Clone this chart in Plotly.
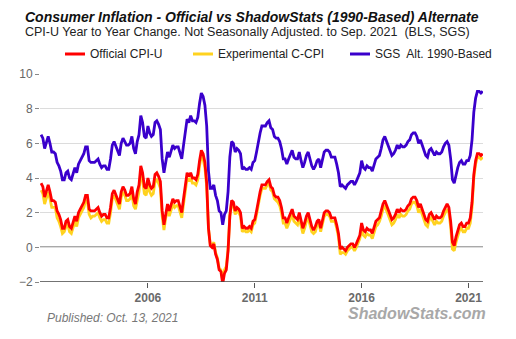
import plotly.graph_objects as go

start_year = 2001

cpi_u = [
    3.7, 3.5, 2.9, 3.3, 3.6, 3.2, 2.7, 2.7, 2.6, 2.1, 1.9, 1.6,
    1.1, 1.1, 1.5, 1.6, 1.2, 1.1, 1.5, 1.8, 1.5, 2.0, 2.2, 2.4,
    2.6, 3.0, 3.0, 2.2, 2.1, 2.1, 2.1, 2.2, 2.3, 2.0, 1.8, 1.9,
    1.9, 1.7, 1.7, 2.3, 3.1, 3.3, 3.0, 2.7, 2.5, 3.2, 3.5, 3.3,
    3.0, 3.0, 3.1, 3.5, 2.8, 2.5, 3.2, 3.6, 4.7, 4.3, 3.5, 3.4,
    4.0, 3.6, 3.4, 3.5, 4.2, 4.3, 4.1, 3.8, 2.1, 1.3, 2.0, 2.5,
    2.1, 2.4, 2.8, 2.6, 2.7, 2.7, 2.4, 2.0, 2.8, 3.5, 4.3, 4.1,
    4.3, 4.0, 4.0, 3.9, 4.2, 5.0, 5.6, 5.4, 4.9, 3.7, 1.1, 0.1,
    0.0, 0.2, -0.4, -0.7, -1.3, -1.4, -2.1, -1.5, -1.3, -0.2, 1.8, 2.7,
    2.6, 2.1, 2.3, 2.2, 2.0, 1.1, 1.2, 1.1, 1.1, 1.2, 1.1, 1.5,
    1.6, 2.1, 2.7, 3.2, 3.6, 3.6, 3.6, 3.8, 3.9, 3.5, 3.4, 3.0,
    2.9, 2.9, 2.7, 2.3, 1.7, 1.7, 1.4, 1.7, 2.0, 2.2, 1.8, 1.7,
    1.6, 2.0, 1.5, 1.1, 1.4, 1.8, 2.0, 1.5, 1.2, 1.0, 1.2, 1.5,
    1.6, 1.1, 1.5, 2.0, 2.1, 2.1, 2.0, 1.7, 1.7, 1.7, 1.3, 0.8,
    -0.1, 0.0, -0.1, -0.2, 0.0, 0.1, 0.2, 0.2, 0.0, 0.2, 0.5, 0.7,
    1.4, 1.0, 0.9, 1.1, 1.0, 1.0, 0.8, 1.1, 1.5, 1.6, 1.7, 2.1,
    2.5, 2.7, 2.4, 2.2, 1.9, 1.6, 1.7, 1.9, 2.2, 2.0, 2.2, 2.1,
    2.1, 2.2, 2.4, 2.5, 2.8, 2.9, 2.9, 2.7, 2.3, 2.5, 2.2, 1.9,
    1.6, 1.5, 1.9, 2.0, 1.8, 1.6, 1.8, 1.7, 1.7, 1.8, 2.1, 2.3,
    2.5, 2.3, 1.5, 0.3, 0.1, 0.6, 1.0, 1.3, 1.4, 1.2, 1.2, 1.4,
    1.4, 1.7, 2.6, 4.2, 5.0, 5.4, 5.4, 5.3, 5.4,
]

c_cpi = [
    3.3, 3.1, 2.5, 2.9, 3.2, 2.8, 2.3, 2.3, 2.3, 1.7, 1.5, 1.2,
    0.8, 0.9, 1.2, 1.3, 0.9, 0.8, 1.2, 1.5, 1.2, 1.7, 1.9, 2.1,
    2.3, 2.7, 2.7, 1.9, 1.7, 1.8, 1.8, 1.9, 2.0, 1.7, 1.5, 1.6,
    1.6, 1.4, 1.4, 2.0, 2.8, 3.0, 2.7, 2.4, 2.2, 2.9, 3.2, 3.0,
    2.7, 2.7, 2.8, 3.1, 2.4, 2.2, 2.8, 3.2, 4.3, 3.9, 3.1, 3.0,
    3.6, 3.2, 3.0, 3.1, 3.8, 3.9, 3.7, 3.4, 1.8, 1.0, 1.7, 2.2,
    1.8, 2.1, 2.5, 2.3, 2.4, 2.4, 2.1, 1.7, 2.5, 3.2, 4.0, 3.8,
    4.0, 3.7, 3.7, 3.6, 3.9, 4.7, 5.3, 5.1, 4.6, 3.5, 1.1, 0.2,
    0.1, 0.3, -0.3, -0.6, -1.2, -1.3, -1.9, -1.3, -1.1, -0.1, 1.8, 2.6,
    2.4, 1.9, 2.1, 2.0, 1.8, 0.9, 1.0, 0.9, 0.9, 1.0, 0.9, 1.3,
    1.4, 1.9, 2.5, 3.0, 3.4, 3.4, 3.4, 3.6, 3.7, 3.3, 3.2, 2.8,
    2.7, 2.6, 2.4, 2.0, 1.4, 1.4, 1.1, 1.4, 1.7, 1.9, 1.5, 1.4,
    1.3, 1.7, 1.2, 0.8, 1.1, 1.5, 1.7, 1.2, 0.9, 0.8, 0.9, 1.3,
    1.4, 0.9, 1.3, 1.8, 1.9, 1.9, 1.8, 1.5, 1.5, 1.5, 1.1, 0.6,
    -0.4, -0.3, -0.3, -0.4, -0.2, -0.1, 0.0, 0.0, -0.2, 0.0, 0.3, 0.5,
    1.1, 0.7, 0.6, 0.8, 0.7, 0.7, 0.5, 0.8, 1.2, 1.3, 1.5, 1.8,
    2.2, 2.4, 2.1, 1.9, 1.6, 1.3, 1.4, 1.6, 1.9, 1.7, 1.9, 1.8,
    1.8, 1.9, 2.1, 2.2, 2.5, 2.6, 2.6, 2.4, 2.0, 2.2, 1.9, 1.6,
    1.3, 1.2, 1.6, 1.7, 1.5, 1.3, 1.5, 1.4, 1.4, 1.5, 1.8, 2.0,
    2.2, 2.0, 1.2, -0.1, -0.2, 0.3, 0.7, 1.0, 1.1, 0.9, 0.9, 1.1,
    1.1, 1.4, 2.3, 4.0, 4.8, 5.2, 5.2, 5.1, 5.2,
]

sgs_alt = [
    6.5, 6.3, 5.7, 6.1, 6.4, 6.0, 5.5, 5.5, 5.4, 4.9, 4.7, 4.4,
    3.9, 3.9, 4.3, 4.4, 4.0, 3.9, 4.3, 4.6, 4.3, 4.8, 5.0, 5.2,
    5.4, 5.8, 5.8, 5.0, 4.9, 4.9, 4.9, 5.0, 5.1, 4.8, 4.6, 4.7,
    4.7, 4.5, 4.5, 5.1, 5.9, 6.1, 5.8, 5.5, 5.3, 6.0, 6.3, 6.1,
    5.9, 5.9, 6.0, 6.4, 5.7, 5.4, 6.1, 6.5, 7.6, 7.2, 6.4, 6.3,
    7.0, 6.6, 6.4, 6.5, 7.2, 7.3, 7.1, 6.8, 5.1, 4.3, 5.0, 5.5,
    5.2, 5.5, 5.9, 5.7, 5.8, 5.8, 5.5, 5.1, 5.9, 6.6, 7.4, 7.2,
    7.6, 7.3, 7.3, 7.2, 7.5, 8.3, 8.9, 8.7, 8.2, 7.0, 4.4, 3.4,
    3.4, 3.6, 3.0, 2.7, 2.1, 2.0, 1.3, 1.9, 2.1, 3.2, 5.2, 6.1,
    6.0, 5.5, 5.7, 5.6, 5.4, 4.5, 4.6, 4.5, 4.5, 4.6, 4.5, 4.9,
    5.0, 5.5, 6.1, 6.6, 7.0, 7.0, 7.0, 7.2, 7.3, 6.9, 6.8, 6.4,
    6.3, 6.3, 6.1, 5.7, 5.1, 5.1, 4.8, 5.1, 5.4, 5.6, 5.2, 5.1,
    5.1, 5.5, 5.0, 4.6, 4.9, 5.3, 5.5, 5.0, 4.7, 4.5, 4.7, 5.0,
    5.1, 4.6, 5.0, 5.5, 5.6, 5.6, 5.5, 5.2, 5.2, 5.2, 4.8, 4.3,
    3.5, 3.6, 3.5, 3.4, 3.6, 3.7, 3.8, 3.8, 3.6, 3.8, 4.1, 4.3,
    5.0, 4.6, 4.5, 4.7, 4.6, 4.6, 4.4, 4.7, 5.1, 5.2, 5.3, 5.7,
    6.2, 6.4, 6.1, 5.9, 5.6, 5.3, 5.4, 5.6, 5.9, 5.7, 5.9, 5.8,
    5.8, 5.9, 6.1, 6.2, 6.5, 6.6, 6.6, 6.4, 6.0, 6.2, 5.9, 5.6,
    5.3, 5.2, 5.6, 5.7, 5.5, 5.3, 5.5, 5.4, 5.4, 5.5, 5.8, 6.0,
    6.1, 5.9, 5.1, 3.9, 3.7, 4.2, 4.6, 4.9, 5.0, 4.8, 4.8, 5.0,
    5.0, 5.3, 6.2, 7.8, 8.6, 9.0, 9.0, 8.9, 9.0,
]

x_ticks = [2006, 2011, 2016, 2021]
y_ticks = [-2, 0, 2, 4, 6, 8, 10]

series_names = ["Official CPI-U", "Experimental C-CPI", "SGS  Alt. 1990-Based"]
series_colors = ["#ff0000", "#ffd21f", "#3a00cc"]

months = [start_year + i / 12 for i in range(len(cpi_u))]

fig = go.Figure()
for name, vals, col in [
    (series_names[2], sgs_alt, series_colors[2]),
    (series_names[1], c_cpi, series_colors[1]),
    (series_names[0], cpi_u, series_colors[0]),
]:
    fig.add_trace(go.Scatter(x=months, y=vals, mode="lines", name=name,
                             line=dict(color=col, width=2.8), showlegend=False,
                             hoverinfo="skip"))

# zero line
fig.add_shape(type="line", xref="paper", yref="y", x0=0, x1=1, y0=0, y1=0,
              line=dict(color="#555555", width=1.5), layer="below")

font = "Liberation Sans, Arial, sans-serif"
fig.update_layout(
    width=516, height=339,
    margin=dict(l=40, r=33, t=74, b=57),
    paper_bgcolor="white", plot_bgcolor="white",
    xaxis=dict(range=[2000.95, 2021.68], tickvals=x_ticks,
               ticktext=[f"<b>{t}</b>" for t in x_ticks],
               showgrid=False, zeroline=False, showline=False,
               ticks="outside", ticklen=5, tickcolor="#555555",
               tickfont=dict(family=font, size=12, color="#6a6a6a")),
    yaxis=dict(range=[-2, 10], tickvals=y_ticks,
               showgrid=True, gridcolor="#dcdcdc", gridwidth=1,
               zeroline=False, showline=False,
               ticks="outside", ticklen=4, tickcolor="#888888",
               tickfont=dict(family=font, size=12, color="#666666")),
)
# bottom axis line at -2
fig.add_shape(type="line", xref="paper", yref="y", x0=0, x1=1, y0=-2, y1=-2,
              line=dict(color="#444444", width=1.5))

plot_l, plot_r, plot_t, plot_b = 40, 483, 74, 282
def px_to_paper_x(px):
    return (px - plot_l) / (plot_r - plot_l)
def px_to_paper_y(py):
    return (plot_b - py) / (plot_b - plot_t)

anns = [
    dict(text="<b><i>Consumer Inflation - Official vs ShadowStats (1990-Based) Alternate</i></b>",
         x=23, y=17, size=14, color="#111111"),
    dict(text="CPI-U Year to Year Change. Not Seasonally Adjusted. to Sep. 2021  (BLS, SGS)",
         x=23, y=32, size=12.5, color="#222222"),
    dict(text="<i>Published: Oct. 13, 2021</i>", x=45, y=318, size=12, color="#777777"),
]
for a in anns:
    fig.add_annotation(text=a["text"], xref="paper", yref="paper",
                       x=px_to_paper_x(a["x"]), y=px_to_paper_y(a["y"]),
                       xanchor="left", yanchor="middle", showarrow=False,
                       font=dict(family=font, size=a["size"], color=a["color"]))

fig.add_annotation(text="<b><i>ShadowStats.com</i></b>", xref="paper", yref="paper",
                   x=px_to_paper_x(488), y=px_to_paper_y(313), xanchor="right",
                   yanchor="middle", showarrow=False,
                   font=dict(family=font, size=16, color="#a8a8a8"))

# manual legend
legend_x = [65, 193, 350]
legend_y = 54
for name, col, lx in zip(series_names, series_colors, legend_x):
    fig.add_shape(type="line", xref="paper", yref="paper",
                  x0=px_to_paper_x(lx), x1=px_to_paper_x(lx + 20),
                  y0=px_to_paper_y(legend_y), y1=px_to_paper_y(legend_y),
                  line=dict(color=col, width=3))
    fig.add_annotation(text=name, xref="paper", yref="paper",
                       x=px_to_paper_x(lx + 23), y=px_to_paper_y(legend_y),
                       xanchor="left", yanchor="middle", showarrow=False,
                       font=dict(family=font, size=12, color="#222222"))

fig.write_html("out.html")
